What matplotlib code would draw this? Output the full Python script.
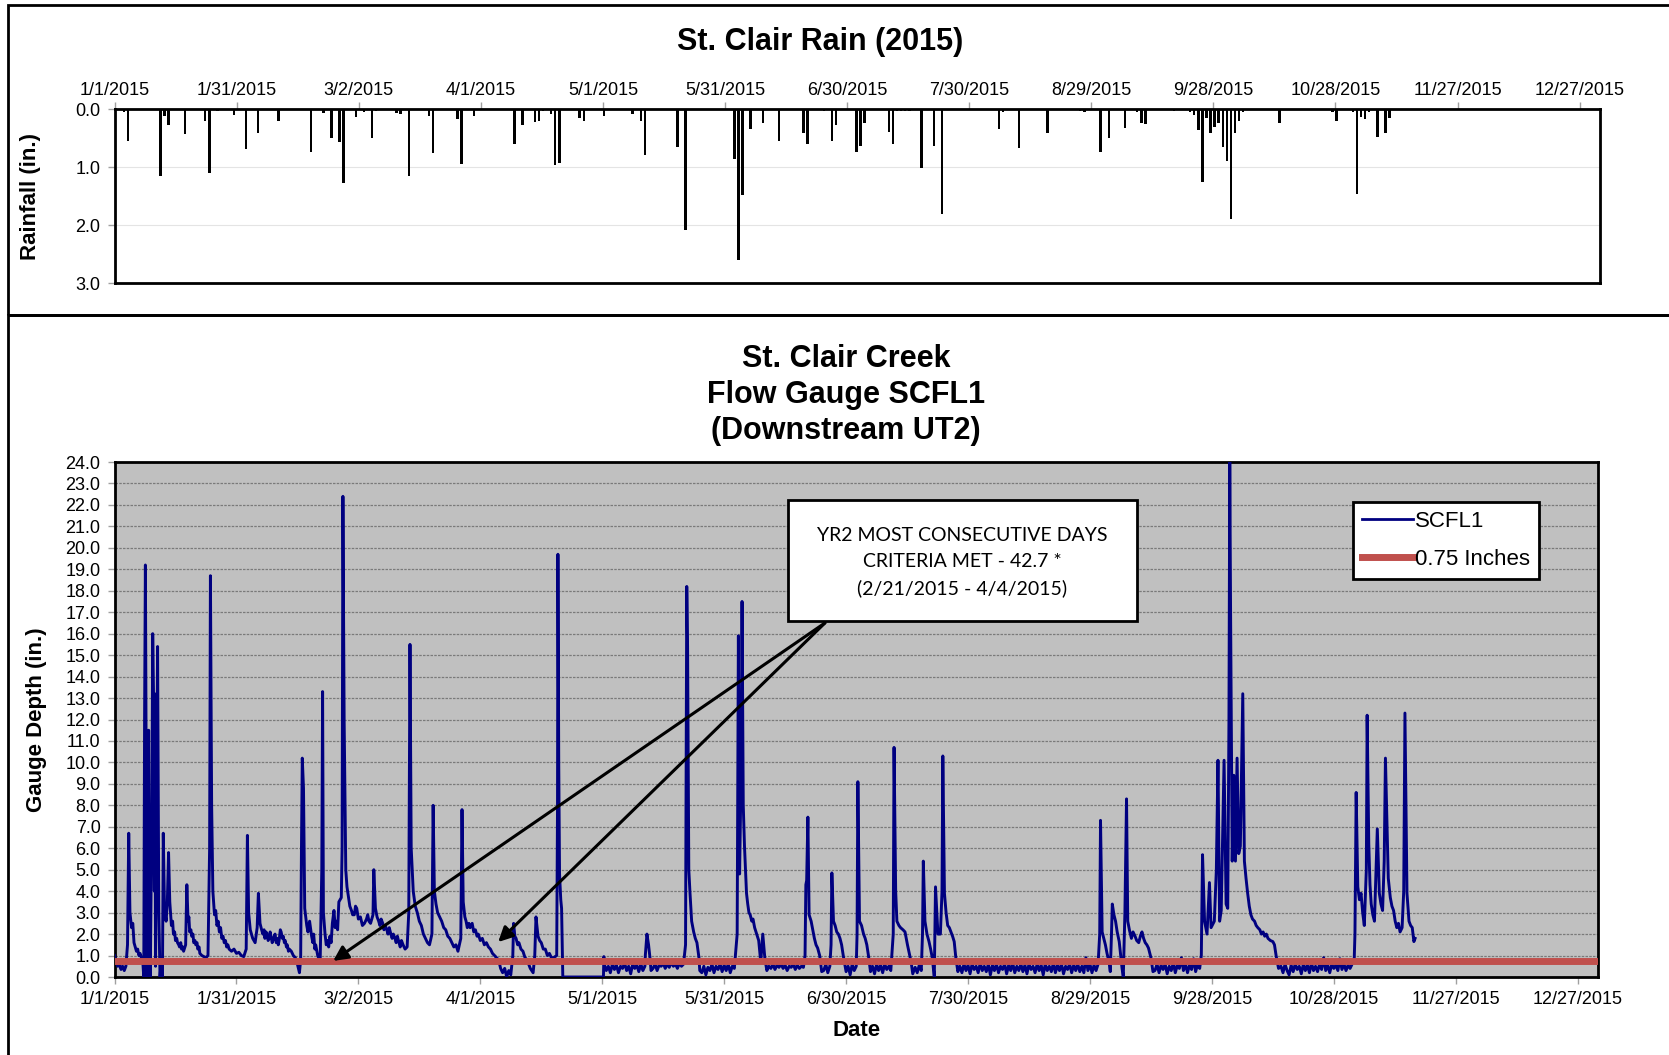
import numpy as np
import matplotlib
matplotlib.use('Agg')
import matplotlib.pyplot as plt
from matplotlib.patches import Rectangle
from matplotlib.lines import Line2D

# ---- data (day 0 = 1/1/2015) ----
tick_days = [0, 30, 60, 90, 120, 150, 180, 210, 240, 270, 300, 330, 360]
tick_labels = ['1/1/2015', '1/31/2015', '3/2/2015', '4/1/2015', '5/1/2015', '5/31/2015',
               '6/30/2015', '7/30/2015', '8/29/2015', '9/28/2015', '10/28/2015',
               '11/27/2015', '12/27/2015']

rain_day = [2, 3, 11, 12, 13, 17, 22, 23, 25, 29, 32, 35, 40, 48, 51, 53, 55, 56, 59, 61,
            63, 64, 69, 70, 72, 77, 78, 84, 85, 88, 97, 98, 100, 103, 104, 105, 107, 108, 109,
            114, 115, 120, 127, 129, 130, 138, 140, 147, 152, 153, 154, 156, 159, 163, 169,
            170, 174, 176, 177, 182, 183, 184, 190, 191, 192, 193, 194, 195, 198, 201, 203,
            217, 218, 222, 229, 237, 238, 242, 244, 248, 251, 252, 253, 260, 264, 265, 266,
            267, 268, 269, 270, 271, 272, 273, 274, 275, 276, 277, 286, 299, 300, 304, 305,
            306, 307, 308, 310, 312, 313]
rain_in = [0.06, 0.56, 1.16, 0.12, 0.28, 0.43, 0.21, 1.11, 0.03, 0.10, 0.69, 0.42, 0.21, 0.74,
           0.07, 0.50, 0.57, 1.28, 0.14, 0.05, 0.50, 0.03, 0.07, 0.09, 1.15, 0.12, 0.76, 0.17,
           0.94, 0.12, 0.02, 0.61, 0.28, 0.22, 0.20, 0.03, 0.08, 0.96, 0.93, 0.16, 0.20, 0.12,
           0.09, 0.20, 0.79, 0.66, 2.08, 0.02, 0.86, 2.61, 1.48, 0.34, 0.24, 0.56, 0.42, 0.60,
           0.04, 0.56, 0.27, 0.74, 0.63, 0.24, 0.40, 0.60, 0.03, 0.03, 0.03, 0.03, 1.02, 0.64,
           1.81, 0.34, 0.05, 0.68, 0.42, 0.03, 0.06, 0.74, 0.50, 0.33, 0.06, 0.24, 0.25, 0.03,
           0.05, 0.10, 0.36, 1.26, 0.15, 0.41, 0.31, 0.24, 0.66, 0.90, 1.89, 0.41, 0.20, 0.05,
           0.24, 0.06, 0.21, 0.06, 1.46, 0.14, 0.18, 0.05, 0.49, 0.41, 0.15]

# storm / recession points of the gauge record
gauge_pts = [
    (0.0, 1.0), (0.4, 0.7), (0.8, 0.5), (1.2, 0.6), (1.6, 0.35), (2.0, 0.5), (2.4, 0.3),
    (2.8, 0.5), (3.2, 1.5), (3.5, 6.7), (3.8, 3.0), (4.2, 2.3), (4.5, 2.5), (4.8, 1.6),
    (5.1, 1.4), (5.4, 1.2), (5.7, 1.3), (6.0, 1.0), (6.3, 1.1), (6.6, 0.9), (7.0, 0.6),
    (7.2, 0.0), (7.4, 12.0), (7.6, 19.2), (7.8, 9.0),
    (8.0, 0.0), (8.2, 5.0), (8.4, 11.5), (8.6, 3.0), (8.8, 0.0), (9.2, 8.0), (9.4, 16.0),
    (9.6, 13.2), (9.8, 4.0), (9.9, 13.2), (10.1, 0.5), (10.4, 9.0), (10.6, 15.4),
    (10.9, 3.0), (11.2, 0.0), (11.5, 0.8), (11.8, 0.0), (12.0, 6.7), (12.3, 3.2),
    (12.7, 2.6), (13.0, 3.5), (13.3, 5.8), (13.6, 3.5), (14.0, 2.4), (14.3, 2.6),
    (14.5, 2.0), (14.8, 2.1), (15.0, 1.7), (15.3, 1.8), (15.5, 1.6), (15.8, 1.5),
    (16.0, 1.4), (16.3, 1.6), (16.5, 1.3), (16.8, 1.4), (17.0, 1.2), (17.5, 1.5),
    (17.8, 4.3), (18.1, 2.6), (18.3, 2.8), (18.5, 2.1), (18.8, 2.2), (19.0, 1.9),
    (19.3, 2.0), (19.5, 1.6), (19.8, 1.7), (20.0, 1.5), (20.3, 1.6), (20.5, 1.3),
    (20.8, 1.4), (21.0, 1.1), (21.5, 1.0), (22.0, 0.95), (22.5, 0.9), (23.0, 1.0),
    (23.4, 6.0), (23.6, 18.7), (23.9, 8.0), (24.2, 4.0), (24.6, 2.9), (24.9, 3.1),
    (25.2, 2.4), (25.5, 2.6), (25.8, 2.1), (26.1, 2.3), (26.4, 1.8), (26.7, 1.9),
    (27.0, 1.6), (27.3, 1.7), (27.6, 1.4), (27.9, 1.5), (28.2, 1.3), (28.8, 1.2),
    (29.4, 1.3), (30.0, 1.1), (30.6, 1.15), (31.2, 1.0), (31.8, 0.95), (32.4, 1.3),
    (32.7, 6.6), (33.0, 3.0), (33.4, 2.2), (34.0, 1.8), (34.6, 1.6), (35.1, 2.3),
    (35.4, 3.9), (35.8, 2.5), (36.2, 2.2), (36.5, 2.0), (36.8, 2.2), (37.0, 1.8),
    (37.3, 2.1), (37.5, 2.0), (37.8, 1.7), (38.0, 1.8), (38.3, 2.1), (38.5, 1.9),
    (38.8, 1.6), (39.0, 1.7), (39.3, 1.9), (39.5, 2.0), (39.8, 1.6), (40.0, 1.8),
    (40.3, 1.5), (40.5, 1.7), (40.8, 2.2), (41.0, 2.1), (41.3, 1.8), (41.5, 1.9),
    (41.8, 1.6), (42.0, 1.7), (42.3, 1.4), (42.5, 1.5), (42.8, 1.2), (43.0, 1.3),
    (43.5, 1.2), (44.0, 1.0),
    (44.5, 0.9), (45.0, 0.6), (45.5, 0.2), (45.8, 0.8), (46.0, 6.0), (46.2, 10.2),
    (46.5, 8.8), (46.8, 3.2), (47.3, 2.4), (47.6, 2.1), (48.0, 2.6), (48.3, 2.2),
    (48.5, 1.9), (48.8, 1.6), (49.0, 2.0), (49.3, 1.3),
    (49.5, 1.5), (50.0, 1.0), (50.6, 0.7), (51.0, 5.0), (51.2, 13.3), (51.4, 3.0),
    (51.8, 2.0), (52.1, 1.5), (52.4, 1.7), (52.7, 1.4), (53.0, 1.9), (53.3, 1.6),
    (53.6, 2.5), (54.0, 3.1), (54.3, 2.3), (54.6, 2.6), (54.9, 2.2),
    (55.2, 3.5), (55.8, 3.7), (56.0, 6.0), (56.2, 22.4), (56.5, 12.0), (56.9, 5.0),
    (57.2, 4.2), (57.5, 3.8), (57.9, 3.3), (58.3, 3.1), (58.6, 2.9), (59.0, 2.9),
    (59.3, 3.3), (59.6, 3.2), (60.0, 2.7), (60.5, 2.8), (61.0, 2.4), (61.5, 2.5),
    (62.0, 2.7), (62.3, 2.9), (62.6, 2.6), (63.0, 2.5), (63.6, 2.9), (63.8, 5.0),
    (64.2, 3.2), (64.6, 2.8), (65.0, 2.6), (65.3, 2.4), (65.6, 2.7), (66.0, 2.5),
    (66.3, 2.2), (66.6, 2.4), (67.0, 2.2), (67.3, 2.0), (67.6, 2.3), (68.0, 2.0),
    (68.3, 1.8), (68.6, 2.0), (69.0, 1.8), (69.3, 1.6), (69.6, 1.9), (70.0, 1.6),
    (70.3, 1.4), (70.6, 1.7), (71.0, 1.5), (71.5, 1.3),
    (72.0, 1.4), (72.4, 3.0), (72.7, 15.5), (73.0, 6.0), (73.5, 4.0), (74.0, 3.3),
    (74.5, 3.0), (75.0, 2.6), (75.5, 2.4), (76.0, 2.0), (76.5, 1.8), (77.0, 1.6),
    (77.5, 1.5), (78.1, 2.0), (78.4, 8.0), (78.7, 4.0), (79.1, 3.4),
    (79.5, 3.0), (80.0, 2.8), (80.5, 2.6), (81.0, 2.3), (81.5, 2.2), (82.0, 1.9),
    (82.5, 1.8), (83.0, 1.6), (83.5, 1.4), (84.0, 1.5), (84.5, 1.2),
    (85.2, 1.8), (85.5, 7.8), (85.8, 3.5), (86.2, 2.8), (86.5, 2.6), (86.8, 2.3),
    (87.2, 2.5), (87.5, 2.3), (88.0, 2.5), (88.4, 2.1),
    (88.8, 2.2), (89.2, 1.9), (89.5, 2.0), (90.0, 1.7), (90.5, 1.8), (91.0, 1.5),
    (91.5, 1.6), (92.0, 1.4), (92.5, 1.3), (93.0, 1.1), (93.5, 1.0),
    (94.5, 0.8), (95.0, 0.4), (95.5, 0.2), (96.0, 0.4), (96.5, 0.0), (97.0, 0.3),
    (97.5, 0.1), (98.0, 1.0), (98.2, 2.5), (98.5, 1.9), (98.8, 1.8), (99.2, 1.5),
    (99.5, 1.6), (100.0, 1.3), (100.5, 1.2), (101.0, 0.9),
    (101.5, 0.8), (102.3, 0.4), (103.0, 0.2), (103.4, 1.0), (103.7, 2.8), (104.2, 1.9),
    (104.6, 1.7), (105.0, 1.6), (105.5, 1.3), (106.0, 1.3), (106.5, 1.0), (107.0, 1.1),
    (107.5, 0.9), (108.0, 0.9), (108.8, 1.0), (109.0, 8.0),
    (109.1, 19.7), (109.3, 10.0), (109.5, 4.8), (109.8, 3.6), (110.0, 3.2), (110.3, 0.0),
    (120.3, 0.0), (120.4, 0.95),
    (130.6, 1.0), (131.0, 2.0), (131.4, 1.5), (131.8, 0.8), (132.0, 0.3),
    (140.5, 1.5), (140.8, 18.2), (141.0, 15.4), (141.3, 5.0), (141.6, 3.9), (142.0, 2.6),
    (142.5, 2.1), (142.9, 1.8), (143.3, 1.6), (143.8, 0.9), (144.0, 0.3),
    (153.2, 2.0), (153.5, 15.9), (153.8, 4.8), (154.2, 10.0), (154.4, 17.5), (154.7, 8.0),
    (155.0, 6.1), (155.5, 3.9), (155.8, 3.4), (156.1, 3.0), (156.4, 2.9), (156.8, 2.6),
    (157.1, 2.7), (157.5, 2.3), (158.0, 2.0), (158.5, 1.7), (159.0, 0.7),
    (159.5, 2.0), (160.0, 0.9), (160.5, 0.3),
    (169.9, 1.0), (170.1, 4.3), (170.3, 4.5), (170.6, 7.45), (170.9, 2.9), (171.4, 2.6),
    (171.8, 2.2), (172.2, 1.8), (172.6, 1.5), (173.0, 1.35), (173.5, 1.0), (174.0, 0.25),
    (176.3, 1.5), (176.5, 4.85), (176.9, 2.6), (177.3, 2.4), (177.7, 2.1), (178.1, 2.0),
    (178.5, 1.8), (178.9, 1.5), (179.3, 1.0), (180.0, 0.25),
    (182.7, 2.0), (182.9, 9.1), (183.3, 2.6), (183.8, 2.4), (184.3, 2.0), (184.7, 1.8),
    (185.1, 1.5), (185.5, 1.0), (186.0, 0.25),
    (191.6, 2.0), (191.8, 10.7), (192.2, 4.0), (192.5, 2.6), (193.0, 2.4), (193.4, 2.3),
    (194.0, 2.2), (194.5, 2.1), (195.1, 1.5), (196.0, 0.7), (196.4, 0.15),
    (198.8, 2.0), (199.0, 5.4), (199.4, 2.6), (199.9, 2.0), (200.4, 1.65), (200.8, 1.3),
    (201.2, 0.9), (201.7, 0.0),
    (202.0, 4.2), (202.6, 2.0), (203.2, 2.0), (203.6, 4.0), (203.8, 10.3), (204.2, 3.9),
    (204.6, 3.0), (205.0, 2.4), (205.4, 2.3), (205.8, 2.1), (206.2, 1.9), (206.6, 1.65),
    (207.0, 0.9), (207.5, 0.25),
    (242.4, 2.0), (242.6, 7.3), (243.0, 2.1), (243.4, 1.8), (243.8, 1.5), (244.2, 1.1),
    (244.7, 0.7), (245.0, 0.25),
    (245.3, 2.0), (245.5, 3.4), (245.9, 2.9), (246.3, 2.6), (246.7, 2.1), (247.2, 1.65),
    (247.9, 0.4), (248.2, 0.0),
    (248.6, 3.0), (249.0, 8.3), (249.3, 2.6), (249.7, 2.2), (250.2, 1.8), (250.6, 2.1),
    (251.1, 1.9), (251.5, 1.7), (252.0, 1.6), (252.4, 1.9),
    (252.8, 2.1), (253.2, 1.8), (253.6, 1.6), (254.0, 1.5), (254.4, 1.35), (255.0, 0.9),
    (255.5, 0.25),
    (267.4, 1.0), (267.7, 5.7), (268.2, 2.6), (268.8, 2.0), (269.4, 4.4), (269.8, 2.3),
    (270.6, 2.6), (271.1, 5.0), (271.5, 10.1), (271.9, 2.6), (272.3, 3.1), (273.0, 10.1),
    (273.5, 3.4), (273.9, 3.2), (274.2, 12.0), (274.4, 24.0), (274.6, 17.0), (275.0, 5.4),
    (275.4, 9.4), (275.8, 5.4), (276.2, 10.2), (276.6, 5.75), (277.0, 6.1), (277.6, 13.2),
    (278.0, 5.4), (278.4, 4.6), (278.8, 3.9), (279.2, 3.3), (279.6, 2.9), (280.0, 2.7),
    (280.5, 2.6), (280.9, 2.4), (281.3, 2.3), (281.8, 2.2),
    (282.2, 2.0), (282.6, 2.1), (283.0, 1.9), (283.4, 2.0), (283.8, 1.8), (284.4, 1.7),
    (285.0, 1.65), (285.4, 1.5), (285.8, 1.0), (286.4, 0.4),
    (305.2, 2.0), (305.5, 8.6), (305.9, 4.2), (306.3, 3.6), (306.7, 3.9), (307.1, 3.0),
    (307.5, 2.4), (308.0, 5.0),
    (308.2, 12.2), (308.6, 6.2), (308.9, 4.3), (309.2, 3.4), (309.6, 2.9), (310.0, 2.6),
    (310.7, 6.9), (311.2, 3.9), (311.6, 3.4),
    (312.0, 3.1), (312.4, 5.4), (312.7, 10.2), (313.4, 4.6), (313.9, 3.7), (314.3, 3.3),
    (314.7, 3.1), (315.1, 2.6),
    (315.5, 2.3), (315.9, 2.5), (316.3, 2.1), (316.8, 2.3), (317.2, 4.0), (317.5, 12.3),
    (318.0, 3.9), (318.5, 2.6), (318.9, 2.4), (319.3, 2.3), (319.7, 1.65), (320.0, 1.8),
]

# low-flow stretches, read at half-day spacing: (first day, last day, depths)
low_flow = [
    (120.5, 130.5, [0.6, 0.3, 0.5, 0.2, 0.6, 0.35, 0.55, 0.2, 0.5, 0.4, 0.65, 0.3, 0.5, 0.15,
                    0.6, 0.4, 0.55, 0.25, 0.6, 0.3, 0.5]),
    (132.5, 140.0, [0.4, 0.6, 0.3, 0.55, 0.5, 0.65, 0.4, 0.6, 0.45, 0.7, 0.5, 0.6, 0.4, 0.65,
                    0.5, 0.6]),
    (144.5, 152.5, [0.2, 0.5, 0.1, 0.45, 0.3, 0.6, 0.2, 0.5, 0.35, 0.6, 0.25, 0.55, 0.3, 0.6,
                    0.2, 0.5, 0.4]),
    (161.0, 169.5, [0.5, 0.4, 0.6, 0.35, 0.55, 0.45, 0.6, 0.4, 0.55, 0.3, 0.5, 0.45, 0.6, 0.35,
                    0.55, 0.4, 0.5, 0.45]),
    (174.5, 176.0, [0.3, 0.6, 0.2, 0.5]),
    (180.5, 182.5, [0.5, 0.1, 0.6, 0.3, 0.5]),
    (186.5, 191.0, [0.5, 0.15, 0.6, 0.3, 0.55, 0.2, 0.6, 0.35, 0.5, 0.3]),
    (197.0, 198.5, [0.45, 0.2, 0.55, 0.3]),
    (208.0, 242.0, [0.5, 0.2, 0.6, 0.3, 0.55, 0.15, 0.6, 0.35, 0.5, 0.2, 0.65, 0.3, 0.5, 0.25,
                    0.6, 0.1, 0.55, 0.3, 0.6, 0.2, 0.5, 0.35, 0.6, 0.15, 0.55, 0.3, 0.65, 0.2,
                    0.5, 0.3, 0.6, 0.25, 0.55, 0.15, 0.6, 0.35, 0.5, 0.2, 0.6, 0.3, 0.55, 0.1,
                    0.6, 0.3, 0.5, 0.25, 0.65, 0.2, 0.55, 0.3, 0.6, 0.15, 0.5, 0.35, 0.6, 0.2,
                    0.55, 0.3, 0.6, 0.25, 0.5, 0.2, 0.9, 0.3, 0.6, 0.2, 0.55, 0.3, 0.6]),
    (256.0, 267.0, [0.3, 0.6, 0.2, 0.55, 0.35, 0.6, 0.15, 0.5, 0.3, 0.65, 0.2, 0.55, 0.4, 0.9,
                    0.3, 0.6, 0.2, 0.55, 0.35, 0.85, 0.25, 0.6, 0.4]),
    (287.0, 305.0, [0.5, 0.2, 0.6, 0.3, 0.1, 0.55, 0.25, 0.6, 0.35, 0.5, 0.15, 0.6, 0.3, 0.55,
                    0.2, 0.65, 0.3, 0.5, 0.25, 0.6, 0.35, 0.9, 0.3, 0.55, 0.2, 0.6, 0.4, 0.55,
                    0.3, 0.85, 0.35, 0.6, 0.3, 0.55, 0.4, 0.6, 0.7]),
]

criteria = 0.75

# build the gauge series
pts = list(gauge_pts)
for d0, d1, vals in low_flow:
    pts += list(zip(np.linspace(d0, d1, len(vals)), vals))
pts.sort()
g_day = np.array([p[0] for p in pts])
g_in = np.array([p[1] for p in pts])

# ---- figure ----
W, H = 1669, 1055
fig = plt.figure(figsize=(W / 100, H / 100), dpi=100)
plt.rcParams['font.family'] = ['Liberation Sans', 'DejaVu Sans']

def fx(px):
    return px / W

def fy(py):
    return 1 - py / H

# panel frames
fig.add_artist(Rectangle((fx(8), fy(315)), 1.0, (315 - 5) / H, transform=fig.transFigure,
                         fill=False, lw=2, ec='black'))
fig.add_artist(Rectangle((fx(8), -0.05), 1.0, fy(315) + 0.05, transform=fig.transFigure,
                         fill=False, lw=2, ec='black'))

# top: rain
ax1 = fig.add_axes([fx(114.5), fy(283), fx(1600 - 114.5), (283 - 109) / H])
ax1.bar(rain_day, rain_in, width=0.6, align='edge', color='black', zorder=3)
ax1.set_xlim(0, 365)
ax1.set_ylim(3.0, 0.0)
ax1.set_yticks([0, 1, 2, 3])
ax1.set_yticklabels(['0.0', '1.0', '2.0', '3.0'])
ax1.xaxis.tick_top()
ax1.set_xticks(tick_days)
ax1.set_xticklabels(tick_labels)
ax1.grid(axis='y', color='#e4e4e4', lw=0.8)
ax1.tick_params(labelsize=13, color='#a0a0a0', length=5, width=1, pad=5)
ax1.tick_params(axis='x', pad=2)
for s in ax1.spines.values():
    s.set_linewidth(2)
ax1.set_ylabel('Rainfall (in.)', fontsize=16, fontweight='bold', labelpad=25)
fig.text(fx(820), fy(42), 'St. Clair Rain (2015)', fontsize=22, fontweight='bold',
         ha='center', va='center')

# bottom: gauge
ax2 = fig.add_axes([fx(114.5), fy(977), fx(1598 - 114.5), (977 - 462) / H])
ax2.set_facecolor('#c0c0c0')
ax2.plot(g_day, g_in, color='#000080', lw=2.1, zorder=3, label='SCFL1')
ax2.axhline(criteria, color='#c0504d', lw=5, zorder=4, label='0.75 Inches')
ax2.set_xlim(0, 365)
ax2.set_ylim(0, 24)
ax2.set_yticks(np.arange(0, 25, 1))
ax2.set_yticklabels(['%.1f' % v for v in range(25)])
ax2.set_xticks(tick_days)
ax2.set_xticklabels(tick_labels)
ax2.grid(axis='y', color='#7a7a7a', lw=0.9, ls=(0, (2, 1)), zorder=1)
ax2.set_axisbelow(True)
ax2.tick_params(labelsize=13, color='#a0a0a0', length=5, width=1, pad=5)
for s in ax2.spines.values():
    s.set_linewidth(2)
ax2.set_ylabel('Gauge Depth (in.)', fontsize=16, fontweight='bold', labelpad=13)
ax2.set_xlabel('Date', fontsize=16, fontweight='bold', labelpad=9)
fig.text(fx(846), fy(395), 'St. Clair Creek\nFlow Gauge SCFL1\n(Downstream UT2)',
         fontsize=22, fontweight='bold', ha='center', va='center', linespacing=1.28)

leg = ax2.legend(handles=[Line2D([], [], color='#000080', lw=2),
                          Line2D([], [], color='#c0504d', lw=5)],
                 labels=['SCFL1', '0.75 Inches'], loc='upper left',
                 bbox_to_anchor=(0.835, 0.922), fontsize=16, fancybox=False,
                 edgecolor='black', framealpha=1, handlelength=2.3, handletextpad=0.1,
                 borderpad=0.4, labelspacing=0.75, borderaxespad=0)
leg.get_frame().set_linewidth(2)

# callout
ax2.add_patch(Rectangle((0.454, 0.692), 0.235, 0.234, transform=ax2.transAxes,
                        facecolor='white', edgecolor='black', lw=2, zorder=6))
ax2.text(0.5715, 0.806, 'YR2 MOST CONSECUTIVE DAYS\nCRITERIA MET - 42.7 *\n(2/21/2015 - 4/4/2015)',
         transform=ax2.transAxes, ha='center', va='center', fontsize=14, family='Lato',
         linespacing=1.65, zorder=7)
for end in [(53.8, 0.75), (94.4, 1.63)]:
    ax2.annotate('', xy=end, xytext=(174.8, 16.5),
                 arrowprops=dict(arrowstyle='-|>', color='black', lw=2.2,
                                 mutation_scale=22, shrinkA=0, shrinkB=0), zorder=5)

fig.savefig('out.png', dpi=100)
